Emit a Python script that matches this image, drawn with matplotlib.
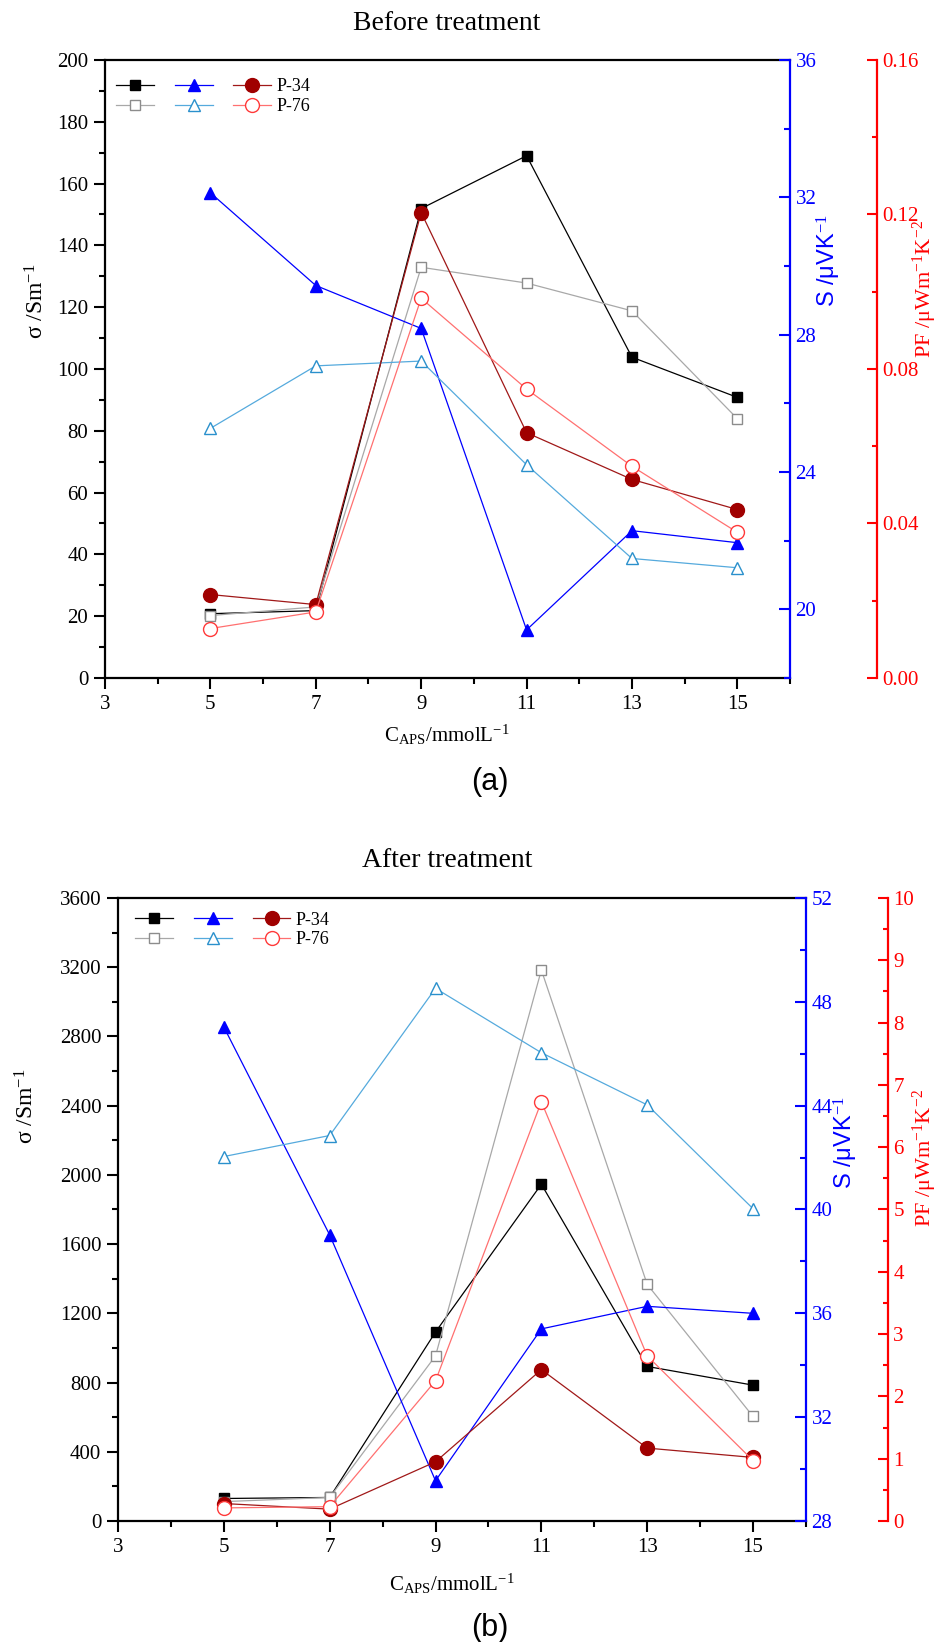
import matplotlib
matplotlib.use("Agg")
import matplotlib.pyplot as plt
from matplotlib.ticker import MultipleLocator, FixedLocator, FormatStrFormatter

plt.rcParams["font.family"] = ["Liberation Serif", "DejaVu Serif"]
plt.rcParams["mathtext.fontset"] = "custom"
plt.rcParams["mathtext.rm"] = "Liberation Serif"
plt.rcParams["mathtext.it"] = "Liberation Serif:italic"

c_aps = [5, 7, 9, 11, 13, 15]
x_major = [3, 5, 7, 9, 11, 13, 15]
x_minor = [4, 6, 8, 10, 12, 14, 16]

# (a) before treatment
sig_p34_a = [20.8, 21.8, 151.9, 169.0, 103.8, 90.8]
sig_p76_a = [20.2, 23.0, 132.9, 127.8, 118.8, 83.9]
s_p34_a = [32.13, 29.43, 28.18, 19.4, 22.29, 21.94]
s_p76_a = [25.27, 27.09, 27.23, 24.21, 21.48, 21.21]
pf_p34_a = [0.0216, 0.019, 0.1205, 0.0635, 0.0514, 0.0436]
pf_p76_a = [0.0128, 0.0171, 0.0983, 0.0748, 0.0548, 0.0377]

# (b) after treatment
sig_p34_b = [130, 136, 1092, 1946, 893, 785]
sig_p76_b = [112, 136, 954, 3184, 1367, 604]
s_p34_b = [47.03, 39.02, 29.55, 35.4, 36.27, 36.0]
s_p76_b = [42.04, 42.85, 48.52, 46.04, 44.03, 40.03]
pf_p34_b = [0.28, 0.19, 0.95, 2.43, 1.17, 1.02]
pf_p76_b = [0.21, 0.23, 2.25, 6.73, 2.65, 0.97]

BLACK = "black"
GRAY_L, GRAY_M = "#a8a8a8", "#8c8c8c"
BLUE = "#0000ff"
CYAN_L, CYAN_M = "#55aadd", "#2a90cc"
DRED_L, DRED_M = "#a01818", "#a00000"
LRED_L, LRED_M = "#ff7070", "#ff3a3a"
SANS = ["Liberation Sans", "DejaVu Sans"]

fig = plt.figure(figsize=(9.41, 16.42), dpi=100)


def panel(rect, sig, s, pf, sig_lim, sig_step, s_lim, s_step, pf_lim, pf_step, pf_fmt,
          red_pos, lab_pos, leg_anchor):
    ax = fig.add_axes(rect)
    ax2 = ax.twinx()
    ax3 = ax.twinx()

    lw = 0.9
    h1, = ax.plot(c_aps, sig[0], color=BLACK, lw=lw, marker="s", ms=6.5,
                  mfc=BLACK, mec=BLACK)
    h2, = ax.plot(c_aps, sig[1], color=GRAY_L, lw=lw, marker="s", ms=6.5,
                  mfc="white", mec=GRAY_M)
    h3, = ax2.plot(c_aps, s[0], color=BLUE, lw=lw, marker="^", ms=8.5,
                   mfc=BLUE, mec=BLUE)
    h4, = ax2.plot(c_aps, s[1], color=CYAN_L, lw=lw, marker="^", ms=8.5,
                   mfc="white", mec=CYAN_M)
    h5, = ax3.plot(c_aps, pf[0], color=DRED_L, lw=lw, marker="o", ms=10,
                   mfc=DRED_M, mec=DRED_M)
    h6, = ax3.plot(c_aps, pf[1], color=LRED_L, lw=lw, marker="o", ms=10,
                   mfc="white", mec=LRED_M)

    ax.set_xlim(3, 16)
    ax.xaxis.set_major_locator(FixedLocator(x_major))
    ax.xaxis.set_minor_locator(FixedLocator(x_minor))
    ax.set_ylim(*sig_lim)
    ax.yaxis.set_major_locator(MultipleLocator(sig_step))
    ax.yaxis.set_minor_locator(MultipleLocator(sig_step / 2))
    ax.tick_params(which="major", direction="out", length=8, width=1.5,
                   labelsize=15, pad=4)
    ax.tick_params(which="minor", direction="out", length=4, width=1.5)
    for side in ("left", "bottom", "top"):
        ax.spines[side].set_linewidth(1.6)
    ax.spines["right"].set_visible(False)

    ax2.set_ylim(*s_lim)
    ax2.yaxis.set_major_locator(MultipleLocator(s_step))
    ax2.yaxis.set_minor_locator(MultipleLocator(s_step / 2))
    ax2.tick_params(which="major", direction="in", length=8, width=1.5,
                    colors=BLUE, labelsize=15, pad=4)
    ax2.tick_params(which="minor", direction="in", length=4, width=1.5,
                    colors=BLUE)
    for side in ("left", "bottom", "top"):
        ax2.spines[side].set_visible(False)
    ax2.spines["right"].set_color(BLUE)
    ax2.spines["right"].set_linewidth(1.6)

    ax3.set_ylim(*pf_lim)
    ax3.yaxis.set_major_locator(MultipleLocator(pf_step))
    ax3.yaxis.set_minor_locator(MultipleLocator(pf_step / 2))
    ax3.yaxis.set_major_formatter(FormatStrFormatter(pf_fmt))
    ax3.tick_params(which="major", direction="in", length=7, width=1.5,
                    colors="red", labelsize=15, pad=4)
    ax3.tick_params(which="minor", direction="in", length=3.5, width=1.5,
                    colors="red")
    for side in ("left", "bottom", "top"):
        ax3.spines[side].set_visible(False)
    ax3.spines["right"].set_position(("axes", red_pos))
    ax3.spines["right"].set_color("red")
    ax3.spines["right"].set_linewidth(1.6)

    ax.set_ylabel("σ /Sm$^{-1}$", fontsize=17)
    ax.yaxis.set_label_coords(*lab_pos[0])
    ax2.set_ylabel("S /μVK$^{-1}$", fontsize=17, color=BLUE, family=SANS)
    ax2.yaxis.set_label_coords(*lab_pos[1])
    ax3.set_ylabel("PF /μWm$^{-1}$K$^{-2}$", fontsize=16, color="red")
    ax3.yaxis.set_label_coords(*lab_pos[2])

    ax3.legend([h1, h2, h3, h4, h5, h6], ["", "", "", "", "P-34", "P-76"],
               ncol=3, loc="upper left", bbox_to_anchor=leg_anchor,
               frameon=False, fontsize=13, borderaxespad=0, borderpad=0,
               handlelength=2.1, handletextpad=0.3, columnspacing=0.85,
               labelspacing=0.15)
    return ax


panel([0.1116, 0.5871, 0.728, 0.3764],
      (sig_p34_a, sig_p76_a), (s_p34_a, s_p76_a), (pf_p34_a, pf_p76_a),
      (0, 200), 20, (18, 36), 4, (0, 0.16), 0.04, "%.2f",
      1.127, [(-0.083, 0.61), (1.036, 0.675), (1.176, 0.63)], (0.016, 0.970))

panel([0.1254, 0.0737, 0.7311, 0.3794],
      (sig_p34_b, sig_p76_b), (s_p34_b, s_p76_b), (pf_p34_b, pf_p76_b),
      (0, 3600), 400, (28, 52), 4, (0, 10), 1, "%d",
      1.119, [(-0.115, 0.665), (1.038, 0.607), (1.152, 0.583)], (0.025, 0.978))

fig.text(0.475, 1 - 23 / 1642, "Before treatment", fontsize=20,
         ha="center", va="center")
fig.text(0.475, 1 - 860 / 1642, "After treatment", fontsize=20,
         ha="center", va="center")
fig.text(0.475, 1 - 735 / 1642, "C$_{\\mathrm{APS}}$/mmolL$^{-1}$",
         fontsize=15, ha="center", va="center")
fig.text(0.48, 1 - 1584 / 1642, "C$_{\\mathrm{APS}}$/mmolL$^{-1}$",
         fontsize=15, ha="center", va="center")
fig.text(490 / 941, 1 - 782 / 1642, "(a)", fontsize=22, ha="center",
         va="center", family=SANS)
fig.text(490 / 941, 1 - 1628 / 1642, "(b)", fontsize=22, ha="center",
         va="center", family=SANS)

fig.savefig("out.png", dpi=100)
